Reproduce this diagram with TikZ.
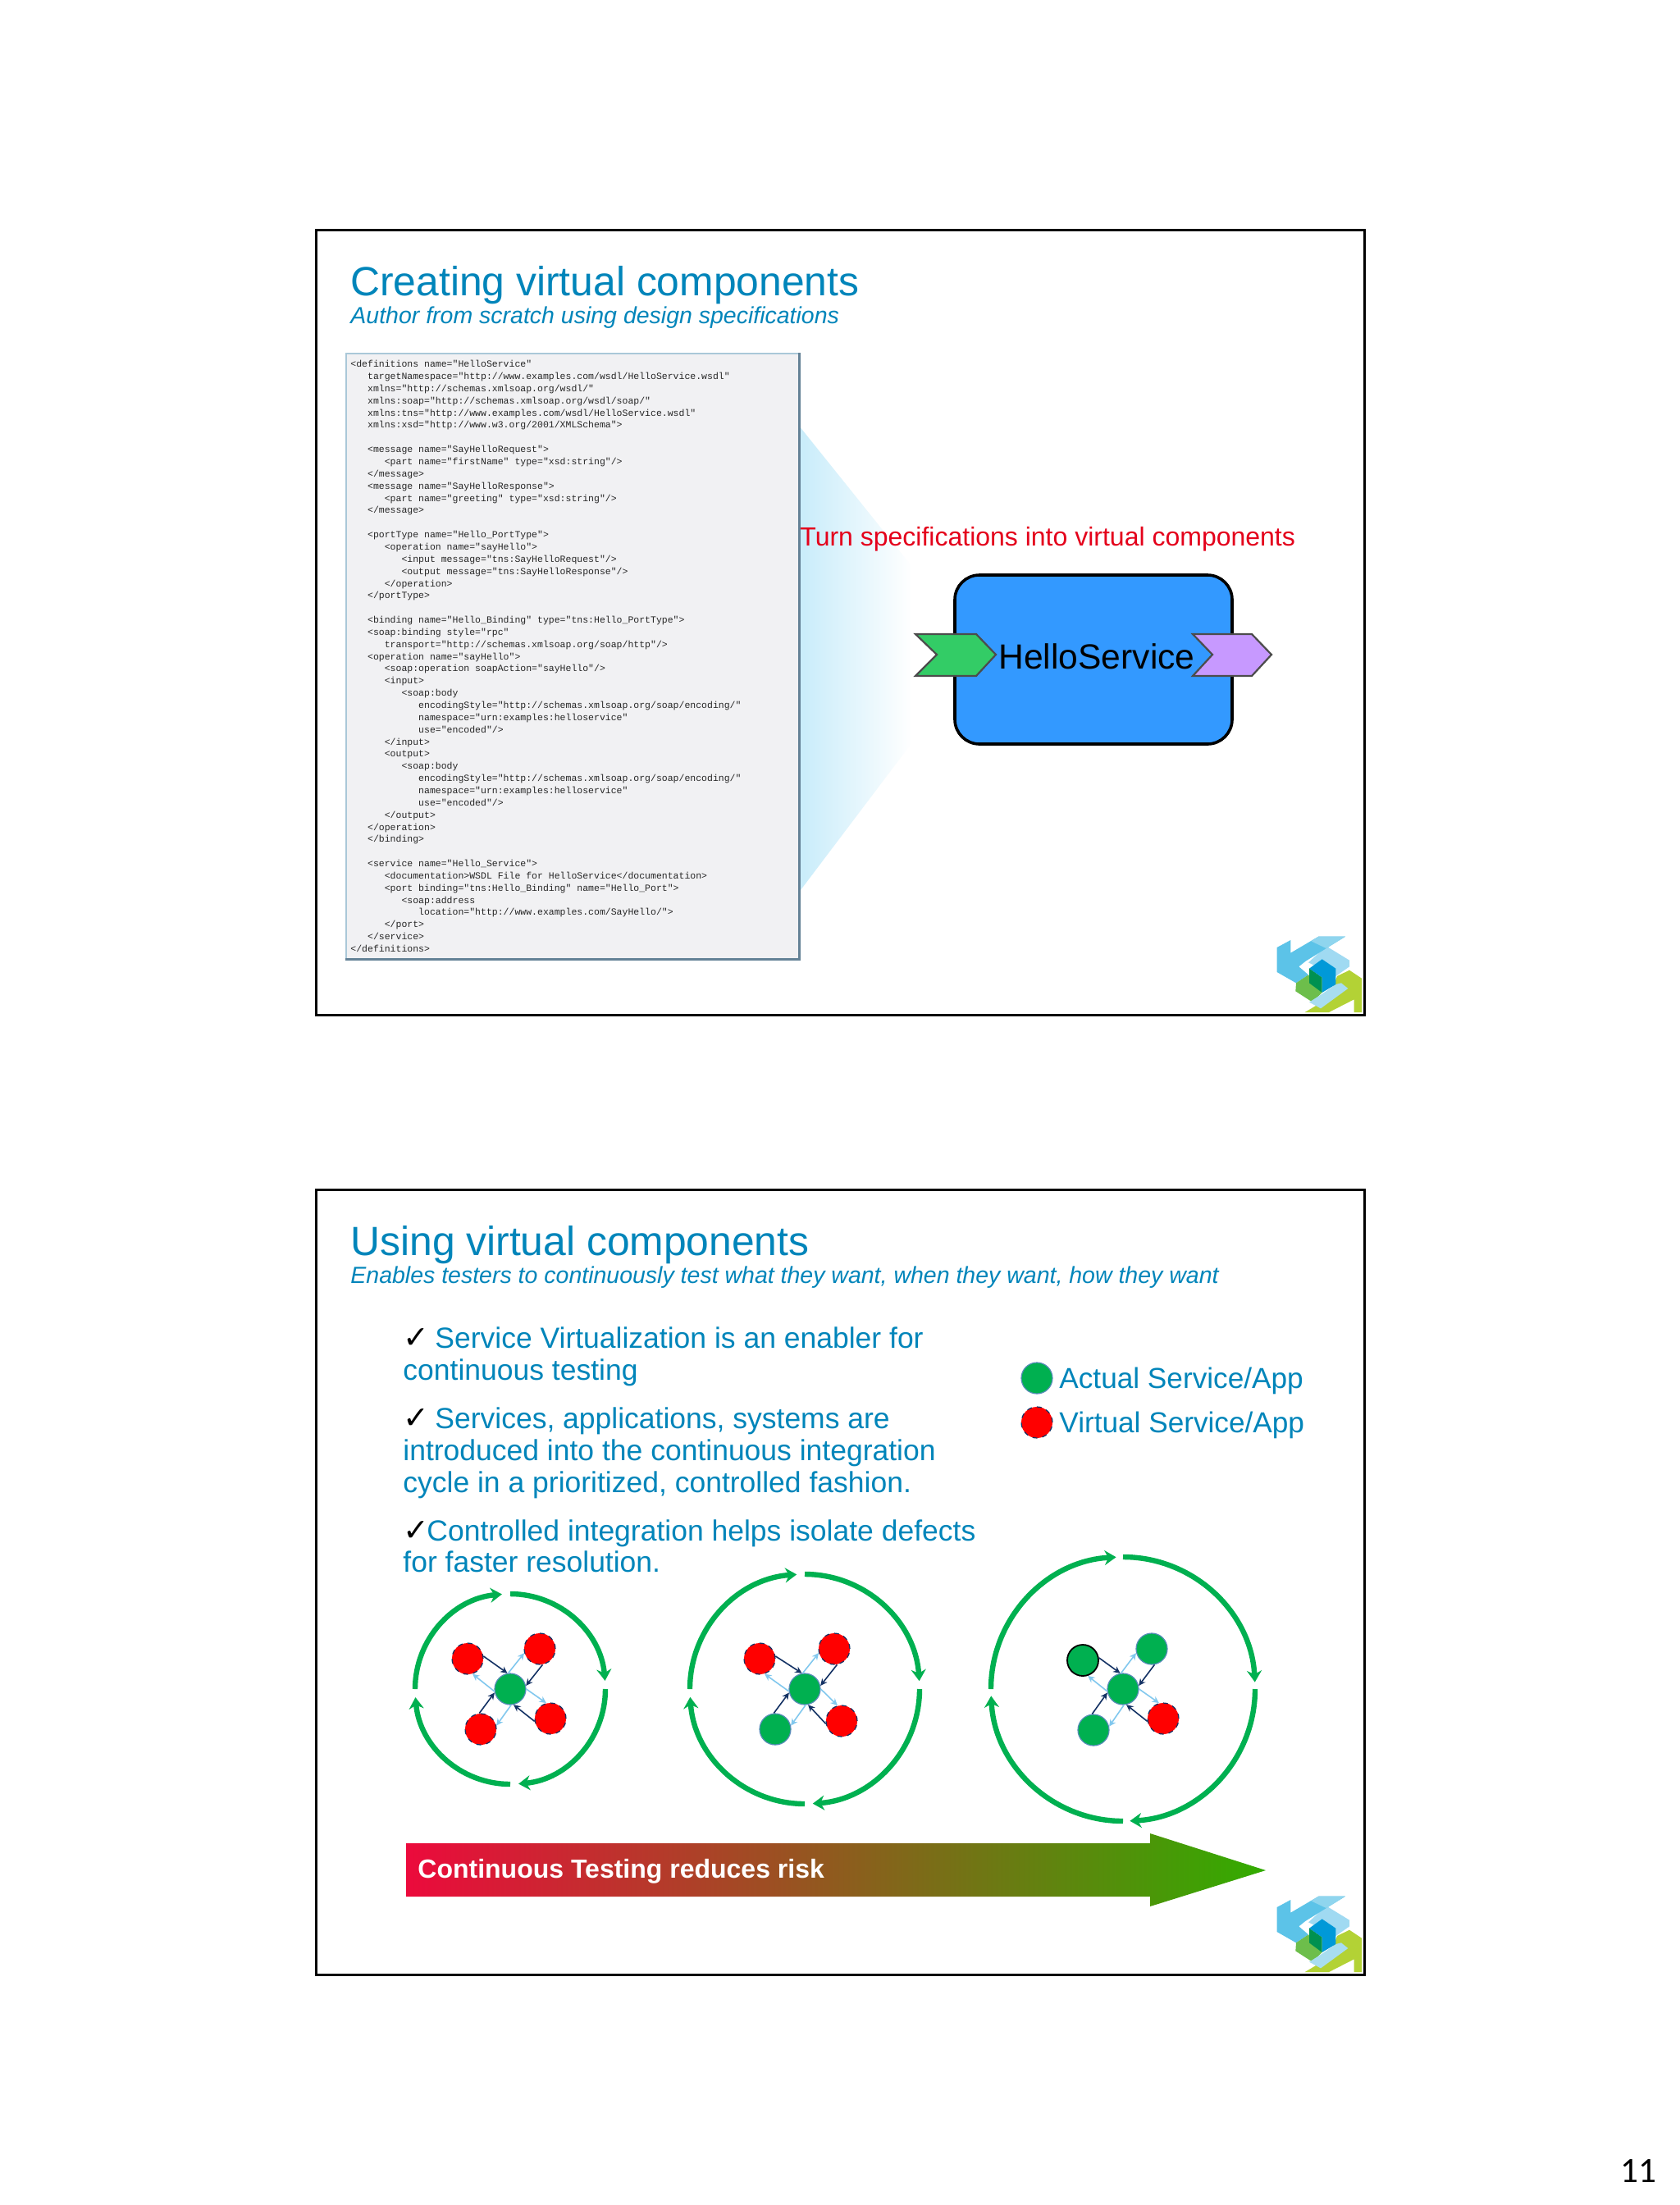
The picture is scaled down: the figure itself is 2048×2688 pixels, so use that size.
\documentclass[tikz,border=0pt]{standalone}
\usepackage{fontspec}
\setmainfont{Liberation Sans}
\newfontfamily\codefont{Liberation Mono}
\newfontfamily\checkfont{DejaVu Sans}
\newfontfamily\numfont{Carlito}
\usetikzlibrary{arrows.meta,positioning}
\definecolor{accent}{RGB}{0,133,186}
\definecolor{alert}{RGB}{228,0,27}
\definecolor{actual}{RGB}{0,176,80}
\definecolor{virtual}{RGB}{255,0,0}
\definecolor{navy}{RGB}{20,50,100}
\definecolor{skyline}{RGB}{130,200,238}
\definecolor{beam}{RGB}{200,236,250}
\definecolor{codebg}{RGB}{241,241,243}
\definecolor{codeedge}{RGB}{170,200,216}
\definecolor{codedark}{RGB}{100,130,150}
\definecolor{svcblue}{RGB}{51,153,255}
\definecolor{portin}{RGB}{51,204,102}
\definecolor{portout}{RGB}{199,153,255}
\definecolor{riskL}{RGB}{236,10,60}
\definecolor{riskM}{RGB}{200,146,40}
\definecolor{riskR}{RGB}{50,172,0}
\newcommand{\ind}[1]{\hspace*{#1\dimexpr3.45pt\relax}}
\newcommand{\chk}[1]{\makebox[#1][l]{\smash{\textcolor{black}{\checkfont\fontsize{19}{19}\selectfont\char"2713}}}}
\newcommand{\logo}[1]{%
  \begin{scope}[shift={(1520,#1)},x=0.16667pt,y=-0.16667pt]
    \fill[fill={rgb,255:red,179;green,210;blue,53}] (330,240)--(375,218)--(420,248)--(420,372)--(392,372)--(392,325)--(300,372)--(212,372)--(300,320)--cycle;
    \fill[fill={rgb,255:red,160;green,218;blue,242}] (290,130)--(375,182)--(375,205)--(325,240)--(225,190)--cycle;
    \fill[fill={rgb,255:red,92;green,195;blue,232}] (110,135)--(160,108)--(160,155)--(262,95)--(360,95)--(215,185)--(190,205)--(225,235)--(180,265)--(110,225)--cycle;
    \fill[fill={rgb,255:red,143;green,213;blue,238}] (262,95)--(360,95)--(290,138)--(235,112)--cycle;
    \fill[fill={rgb,255:red,109;green,190;blue,75}] (180,265)--(225,235)--(275,300)--(240,335)--(178,295)--cycle;
    \fill[fill={rgb,255:red,168;green,221;blue,240}] (228,335)--(275,305)--(325,270)--(345,265)--(370,285)--(270,358)--cycle;
    \fill[fill={rgb,255:red,0;green,153;blue,216}] (228,212)--(275,178)--(325,212)--(325,270)--(275,300)--(275,245)--cycle;
    \fill[fill={rgb,255:red,0;green,145;blue,80}] (228,212)--(275,245)--(275,300)--(228,265)--cycle;
  \end{scope}}

\begin{document}
\begin{tikzpicture}[x=0.5pt, y=-0.5pt, >={Stealth[length=4.2pt,width=4pt]},
  slide/.style={draw=black, line width=1.5pt},
  ttl/.style={anchor=base west, inner sep=0, text=accent, font=\fontsize{24.9}{28}\selectfont},
  subttl/.style={anchor=base west, inner sep=0, text=accent, font=\fontsize{14.25}{17}\selectfont\itshape},
  body/.style={anchor=north west, inner sep=0, align=left, text=accent, font=\fontsize{17.75}{19.35}\selectfont},
  lgd/.style={anchor=base west, inner sep=0, text=accent, font=\fontsize{17.6}{20}\selectfont},
  act/.style={circle, fill=actual, draw=skyline!60!navy, line width=0.6pt, minimum size=19pt, inner sep=0},
  virt/.style={circle, fill=virtual, draw=navy, dashed, line width=0.6pt, minimum size=19pt, inner sep=0},
  real/.style={circle, fill=actual, draw=black, line width=0.9pt, minimum size=19pt, inner sep=0},
  cyc/.style={draw=actual, line width=3.2pt, -{Stealth[length=7pt,width=9pt]}},
  inn/.style={draw=navy, line width=0.8pt, ->},
  outn/.style={draw=skyline, line width=0.8pt, ->},
  port/.style={draw=black!70, line width=1.1pt, line join=miter}]
  \useasboundingbox (0,0) rectangle (2048,2688);
  \fill[white] (0,0) rectangle (2048,2688);

  \shade[left color=beam, middle color=beam!80!white, right color=white]
    (974,519)--(1112,691)--(1112,905)--(976,1085)--cycle;
  \node[rectangle, draw=codeedge, fill=codebg, line width=0.8pt, anchor=north west,
    minimum width=276pt, minimum height=369pt, inner sep=0] (spec) at (421,430) {};
  \draw[codedark, line width=1.3pt] (spec.north east)--(spec.south east)--(spec.south west);
  \node[anchor=north west, inner sep=0, align=left, text=black!85,
    font=\codefont\fontsize{5.75}{7.425}\selectfont] (wsdl) at (427,439) {%
<definitions name="HelloService"\\
\ind{3}targetNamespace="http://www.examples.com/wsdl/HelloService.wsdl"\\
\ind{3}xmlns="http://schemas.xmlsoap.org/wsdl/"\\
\ind{3}xmlns:soap="http://schemas.xmlsoap.org/wsdl/soap/"\\
\ind{3}xmlns:tns="http://www.examples.com/wsdl/HelloService.wsdl"\\
\ind{3}xmlns:xsd="http://www.w3.org/2001/XMLSchema">\\
\mbox{}\\
\ind{3}<message name="SayHelloRequest">\\
\ind{6}<part name="firstName" type="xsd:string"/>\\
\ind{3}</message>\\
\ind{3}<message name="SayHelloResponse">\\
\ind{6}<part name="greeting" type="xsd:string"/>\\
\ind{3}</message>\\
\mbox{}\\
\ind{3}<portType name="Hello\_PortType">\\
\ind{6}<operation name="sayHello">\\
\ind{9}<input message="tns:SayHelloRequest"/>\\
\ind{9}<output message="tns:SayHelloResponse"/>\\
\ind{6}</operation>\\
\ind{3}</portType>\\
\mbox{}\\
\ind{3}<binding name="Hello\_Binding" type="tns:Hello\_PortType">\\
\ind{3}<soap:binding style="rpc"\\
\ind{6}transport="http://schemas.xmlsoap.org/soap/http"/>\\
\ind{3}<operation name="sayHello">\\
\ind{6}<soap:operation soapAction="sayHello"/>\\
\ind{6}<input>\\
\ind{9}<soap:body\\
\ind{12}encodingStyle="http://schemas.xmlsoap.org/soap/encoding/"\\
\ind{12}namespace="urn:examples:helloservice"\\
\ind{12}use="encoded"/>\\
\ind{6}</input>\\
\ind{6}<output>\\
\ind{9}<soap:body\\
\ind{12}encodingStyle="http://schemas.xmlsoap.org/soap/encoding/"\\
\ind{12}namespace="urn:examples:helloservice"\\
\ind{12}use="encoded"/>\\
\ind{6}</output>\\
\ind{3}</operation>\\
\ind{3}</binding>\\
\mbox{}\\
\ind{3}<service name="Hello\_Service">\\
\ind{6}<documentation>WSDL File for HelloService</documentation>\\
\ind{6}<port binding="tns:Hello\_Binding" name="Hello\_Port">\\
\ind{9}<soap:address\\
\ind{12}location="http://www.examples.com/SayHello/">\\
\ind{6}</port>\\
\ind{3}</service>\\
</definitions>};

  \node[ttl] (t1) at (427,360) {Creating virtual components};
  \node[subttl] (s1) at (427,394) {Author from scratch using design specifications};
  \node[anchor=base west, inner sep=0, text=alert, font=\fontsize{16}{19}\selectfont] (turn) at (975,665)
    {Turn specifications into virtual components};
  \node[rectangle, rounded corners=15pt, draw=black, fill=svcblue, line width=1.8pt,
    minimum width=169pt, minimum height=103pt, inner sep=0] (svc) at (1333,804) {};
  \draw[port, fill=portin] (1116,773)--(1190,773)--(1214,798)--(1190,824)--(1116,824)--(1142,798)--cycle;
  \draw[port, fill=portout] (1454,773)--(1526,773)--(1550,798)--(1526,824)--(1454,824)--(1478,798)--cycle;
  \node[anchor=base, inner sep=0, font=\fontsize{21.3}{24}\selectfont] (hello) at (1337,815) {HelloService};
  \logo{1110}
  \draw[slide] (385,280) rectangle (1663,1237);

  \node[ttl] (t2) at (427,1530) {Using virtual components};
  \node[subttl] (s2) at (427,1564) {Enables testers to continuously test what they want, when they want, how they want};
  \node[body] (b1) at (491,1617.5) {\chk{19.5pt}Service Virtualization is an enabler for\\continuous testing};
  \node[body] (b2) at (491,1715.5) {\chk{19.5pt}Services, applications, systems are\\introduced into the continuous integration\\cycle in a prioritized, controlled fashion.};
  \node[body] (b3) at (491,1852) {\chk{14.5pt}Controlled integration helps isolate defects\\for faster resolution.};
  \node[act] (la) at (1264,1680) {};
  \node[virt] (lv) at (1264,1734) {};
  \node[lgd] (lat) at (1291,1692) {Actual Service/App};
  \node[lgd] (lvt) at (1291,1746) {Virtual Service/App};

  \coordinate (c1) at (622,2059);
  \coordinate (c2) at (981,2059);
  \coordinate (c3) at (1369,2059);
  \foreach \c/\r/\d in {c1/58pt/-85, c2/70pt/-86, c3/80.5pt/-87}
    \foreach \a in {90,0,-90,-180}
      \draw[cyc] ([shift={(\a:\r)}]\c) arc[start angle=\a, delta angle=\d, radius=\r];

  \node[act] (actr) at (622,2059) {};
  \node[virt] (atl) at (570,2022) {};
  \node[virt] (atr) at (658,2010) {};
  \node[virt] (abl) at (586,2108) {};
  \node[virt] (abr) at (671,2095) {};
  \node[act] (bctr) at (981,2059) {};
  \node[virt] (btl) at (926,2022) {};
  \node[virt] (btr) at (1017,2010) {};
  \node[act] (bbl) at (945,2108) {};
  \node[virt] (bbr) at (1026,2098) {};
  \node[act] (cctr) at (1369,2059) {};
  \node[real] (ctl) at (1320,2024) {};
  \node[act] (ctr) at (1404,2010) {};
  \node[act] (cbl) at (1333,2109) {};
  \node[virt] (cbr) at (1418,2095) {};
  \foreach \n in {a,b,c} {
    \draw[inn] (\n tl.9)--(\n ctr.100);
    \draw[outn] (\n ctr.97)--(\n tr.195);
    \draw[inn] (\n tr.-80)--(\n ctr.12);
    \draw[outn] (\n ctr.0)--(\n br.105);
    \draw[inn] (\n br.190)--(\n ctr.-78);
    \draw[outn] (\n ctr.-87)--(\n bl.13);
    \draw[inn] (\n bl.95)--(\n ctr.193);
    \draw[outn] (\n ctr.188)--(\n tl.-72);
  }

  \shade[left color=riskL, middle color=riskM, right color=riskR]
    (495,2247)--(1402,2247)--(1402,2235)--(1543,2280)--(1402,2324)--(1402,2312)--(495,2312)--cycle;
  \node[anchor=base west, inner sep=0, text=white, font=\fontsize{16}{18}\selectfont\bfseries] (risk) at (509,2289)
    {Continuous Testing reduces risk};
  \logo{2280}
  \draw[slide] (385,1450) rectangle (1663,2407);

  \node[anchor=base, inner sep=0, font=\numfont\fontsize{21.7}{24}\selectfont] (page) at (1997,2660) {11};
\end{tikzpicture}
\end{document}
